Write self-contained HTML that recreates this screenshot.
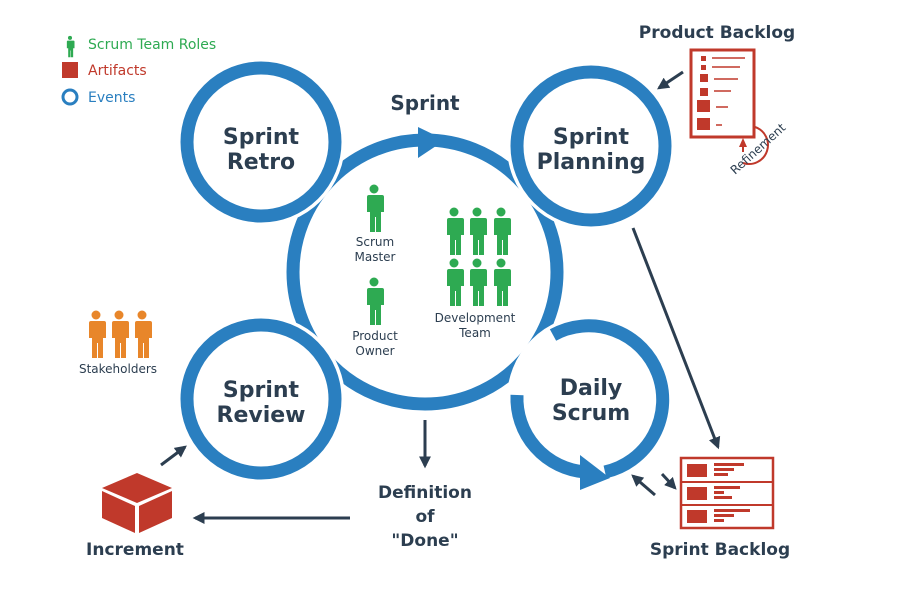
<!DOCTYPE html>
<html><head><meta charset="utf-8"><style>body{margin:0;background:#fff}svg{display:block}text{font-family:"DejaVu Sans","Liberation Sans",sans-serif}</style></head><body>
<svg width="900" height="593" viewBox="0 0 900 593">
<defs>
<g id="p"><circle cx="0" cy="-18" r="4.5"/><path d="M-8,-12 h16 a2,2 0 0 1 2,2 v15 h-3 v20 h-5 v-15 h-1 v15 h-5 v-20 h-3 v-15 a2,2 0 0 1 2,-2z"/></g>
<marker id="a" viewBox="0 0 10 10" refX="8" refY="5" markerWidth="4" markerHeight="4" orient="auto"><path d="M0,0L10,5L0,10z" fill="#2c3e50"/></marker>
</defs>
<!-- legend -->
<g fill="#2eaa52" transform="translate(70,46) scale(0.45)"><use href="#p"/></g>
<text x="88" y="49" font-size="14" fill="#2eaa52">Scrum Team Roles</text>
<rect x="62" y="62" width="16" height="16" fill="#c0392b"/>
<text x="88" y="75" font-size="14" fill="#c0392b">Artifacts</text>
<circle cx="70" cy="97" r="7" fill="none" stroke="#2a7fc0" stroke-width="3"/>
<text x="88" y="102" font-size="14" fill="#2a7fc0">Events</text>
<!-- central ring -->
<circle cx="425" cy="272" r="132" fill="none" stroke="#2a7fc0" stroke-width="13"/>
<path d="M418,127 L418,158 L445,140z" fill="#2a7fc0"/>
<text x="425" y="110" font-size="20" font-weight="bold" fill="#2c3e50" text-anchor="middle">Sprint</text>
<!-- small circles -->
<g fill="#fff" stroke-width="13">
<circle cx="261" cy="142" r="74" stroke="#fff" stroke-width="20"/><circle cx="261" cy="142" r="74" stroke="#2a7fc0"/>
<circle cx="591" cy="146" r="74" stroke="#fff" stroke-width="20"/><circle cx="591" cy="146" r="74" stroke="#2a7fc0"/>
<circle cx="261" cy="399" r="74" stroke="#fff" stroke-width="20"/><circle cx="261" cy="399" r="74" stroke="#2a7fc0"/>
<circle cx="591" cy="399" r="74" stroke="#fff" stroke-width="20"/>
</g>
<path d="M553,335 A74,74 0 1 1 605,472" fill="none" stroke="#2a7fc0" stroke-width="13"/>
<path d="M517,395 A74,74 0 0 0 585,472" fill="none" stroke="#2a7fc0" stroke-width="13"/>
<path d="M580,455 L610,478 L580,490z" fill="#2a7fc0"/>
<g font-size="22" font-weight="bold" fill="#2c3e50" text-anchor="middle">
<text x="261" y="144">Sprint</text><text x="261" y="169">Retro</text>
<text x="591" y="144">Sprint</text><text x="591" y="169">Planning</text>
<text x="261" y="397">Sprint</text><text x="261" y="422">Review</text>
<text x="591" y="395">Daily</text><text x="591" y="420">Scrum</text>
</g>
<!-- people -->
<g fill="#2eaa52">
<use href="#p" transform="translate(374,207)"/>
<use href="#p" transform="translate(374,300)"/>
<use href="#p" transform="translate(454,230)"/><use href="#p" transform="translate(477,230)"/><use href="#p" transform="translate(501,230)"/>
<use href="#p" transform="translate(454,281)"/><use href="#p" transform="translate(477,281)"/><use href="#p" transform="translate(501,281)"/>
</g>
<g font-size="12" fill="#2c3e50" text-anchor="middle">
<text x="375" y="246">Scrum</text><text x="375" y="261">Master</text>
<text x="375" y="340">Product</text><text x="375" y="355">Owner</text>
<text x="475" y="322">Development</text><text x="475" y="337">Team</text>
<text x="118" y="373">Stakeholders</text>
</g>
<g fill="#e8862a">
<use href="#p" transform="translate(96,333)"/><use href="#p" transform="translate(119,333)"/><use href="#p" transform="translate(142,333)"/>
</g>
<!-- arrows -->
<g stroke="#2c3e50" stroke-width="3" fill="none" marker-end="url(#a)">
<line x1="425" y1="420" x2="425" y2="466"/>
<line x1="350" y1="518" x2="195" y2="518"/>
<line x1="161" y1="465" x2="185" y2="447"/>
<line x1="633" y1="228" x2="718" y2="447"/>
<line x1="683" y1="72" x2="659" y2="88"/>
<line x1="662" y1="474" x2="675" y2="488"/>
<line x1="655" y1="495" x2="633" y2="476"/>
</g>
<!-- definition of done -->
<g font-size="17" font-weight="bold" fill="#2c3e50" text-anchor="middle">
<text x="425" y="498">Definition</text><text x="425" y="522">of</text><text x="425" y="546">"Done"</text>
<text x="135" y="555">Increment</text>
<text x="717" y="38">Product Backlog</text>
<text x="720" y="555">Sprint Backlog</text>
</g>
<!-- cube -->
<path d="M102,488 L137,473 L172,488 L137,503z" fill="#c0392b"/>
<path d="M102,491 L135,506 L135,533 L102,518z" fill="#c0392b"/>
<path d="M139,506 L172,491 L172,518 L139,533z" fill="#c0392b"/>
<!-- product backlog -->
<rect x="691" y="50" width="63" height="87" fill="#fff" stroke="#c0392b" stroke-width="3"/>
<g fill="#c0392b"><rect x="701" y="56" width="5" height="5"/><rect x="701" y="65" width="5" height="5"/><rect x="700" y="74" width="8" height="8"/><rect x="700" y="88" width="8" height="8"/><rect x="697" y="100" width="13" height="12"/><rect x="697" y="118" width="13" height="12"/></g>
<g stroke="#c0392b" stroke-width="1.5"><line x1="712" y1="58" x2="745" y2="58"/><line x1="712" y1="67" x2="740" y2="67"/><line x1="714" y1="79" x2="738" y2="79"/><line x1="714" y1="91" x2="731" y2="91"/><line x1="716" y1="107" x2="728" y2="107"/><line x1="716" y1="125" x2="722" y2="125"/></g>
<path d="M755,127 A17,17 0 1 1 743,163" fill="none" stroke="#c0392b" stroke-width="2"/>
<path d="M743,138 L739,147 L747,147z" fill="#c0392b"/><line x1="743" y1="145" x2="743" y2="152" stroke="#c0392b" stroke-width="2"/>
<text x="0" y="0" font-size="12" fill="#2c3e50" transform="translate(735,175) rotate(-42)">Refinement</text>
<!-- sprint backlog -->
<rect x="681" y="458" width="92" height="70" fill="#fff" stroke="#c0392b" stroke-width="2.5"/>
<line x1="681" y1="482" x2="773" y2="482" stroke="#c0392b" stroke-width="2"/><line x1="681" y1="505" x2="773" y2="505" stroke="#c0392b" stroke-width="2"/>
<g fill="#c0392b"><rect x="687" y="464" width="20" height="13"/><rect x="687" y="487" width="20" height="13"/><rect x="687" y="510" width="20" height="13"/>
<rect x="714" y="463" width="30" height="3"/><rect x="714" y="468" width="20" height="3"/><rect x="714" y="473" width="14" height="3"/>
<rect x="714" y="486" width="26" height="3"/><rect x="714" y="491" width="10" height="3"/><rect x="714" y="496" width="18" height="3"/>
<rect x="714" y="509" width="36" height="3"/><rect x="714" y="514" width="20" height="3"/><rect x="714" y="519" width="10" height="3"/></g>
</svg>
</body></html>
